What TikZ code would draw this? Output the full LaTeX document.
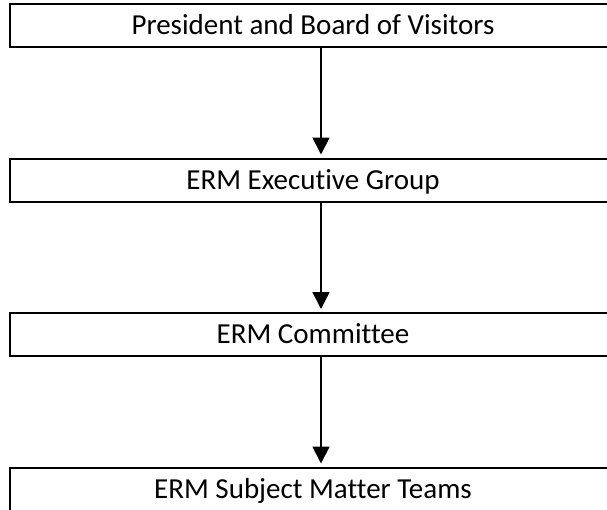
\documentclass[tikz,border=0pt]{standalone}
\usepackage{fontspec}
\setmainfont{Carlito}[Ligatures=NoCommon]
\usetikzlibrary{arrows.meta, positioning}
\tikzset{
  box/.style={
    rectangle, draw, line width=2pt, text centered,
    minimum width=606pt, minimum height=43pt, inner sep=0pt,
    font=\fontsize{29}{33}\selectfont,
    text height=22pt, text depth=3.3pt
  },
  arrow/.style={-{Triangle[length=17pt, width=17pt]}, line width=1.8pt, shorten >=3pt},
}

\begin{document}
\begin{tikzpicture}[node distance=109.5pt]

%% ---- PAGE ----
\useasboundingbox (0,0) rectangle (607pt,-509pt);

%% ---- LEVELS ----
\node[box] (board) at (313pt,-25.5pt) {President and Board of Visitors};
\node[box, below=of board] (exec)  {ERM Executive Group};
\node[box, below=of exec]  (cttee) {ERM Committee};
\node[box, below=of cttee] (teams) {ERM Subject Matter Teams};

%% ---- REPORTING LINES (a little right of centre) ----
\draw[arrow] ([xshift=8pt]board.south) -- ([xshift=8pt]exec.north);
\draw[arrow] ([xshift=8pt]exec.south)  -- ([xshift=8pt]cttee.north);
\draw[arrow] ([xshift=8pt]cttee.south) -- ([xshift=8pt]teams.north);

\end{tikzpicture}
\end{document}
